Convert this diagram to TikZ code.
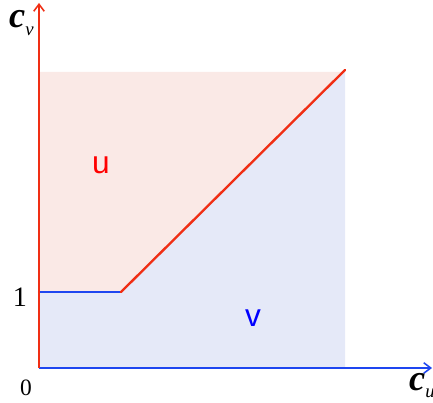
\documentclass[tikz,border=0pt]{standalone}
\usepackage{fontspec}
\setmainfont{Liberation Serif}
\setsansfont{Liberation Sans}
\usetikzlibrary{positioning,arrows.meta}
\definecolor{achsrot}{RGB}{240,46,20}
\definecolor{achsblau}{RGB}{30,70,240}
\definecolor{flaecherot}{RGB}{250,233,230}
\definecolor{flaecheblau}{RGB}{229,233,248}

\begin{document}
\begin{tikzpicture}[x=0.03cm,y=-0.03cm]
\useasboundingbox (0,0) rectangle (433,402);
% 1. Nur die Koordinaten definieren
\coordinate (n0) at (39,368);
\coordinate (n1) at (39,292);
\coordinate (n2) at (121,292);
\coordinate (n3) at (345,70);
\coordinate (n4) at (345,72);
\coordinate (n5) at (39,72);
\coordinate (n6) at (345,368);
\coordinate (ny) at (39,3);
\coordinate (nx) at (432,368);

% 2. Stile definieren
\tikzset{
  axis line/.style={
    line width=1.9pt,
    -{Straight Barb[length=6pt,width=9pt,line width=1.3pt]}
  },
  bound line/.style={
    line width=2pt,
    line cap=round
  },
  big label/.style={
    font=\fontsize{24}{24}\selectfont,
    inner sep=0pt,
    anchor=base
  },
  region label/.style={
    font=\sffamily\fontsize{27}{27}\selectfont,
    inner sep=0pt,
    anchor=base
  },
  axis name/.style={
    anchor=base west,
    inner sep=0pt,
    font=\fontsize{31}{31}\selectfont\bfseries\itshape
  }
}

% 3. Flaechen fuellen
\fill [flaecherot] (n1) -- (n5) -- (n4) -- (n3) -- (n2) -- cycle;
\fill [flaecheblau] (n0) -- (n1) -- (n2) -- (n3) -- (n6) -- cycle;

% 4. Linien zeichnen
\draw [bound line, achsblau] (n1) -- (n2);
\draw [bound line, achsrot] (n2) -- (n3);
\draw [axis line, achsblau] (n0) -- (nx);
\draw [axis line, achsrot] (n0) -- (ny);

% 5. Beschriftungen
\node [axis name] (cv) at (9,28)
  {c\raisebox{-6pt}{\fontsize{16}{16}\selectfont\mdseries v}};
\node [axis name] (cu) at (409,390)
  {c\raisebox{-6pt}{\fontsize{16}{16}\selectfont\mdseries u}};
\node [big label] (eins) at (20,306) {1};
\node [big label, font=\fontsize{20}{20}\selectfont] (null) at (26,395) {0};
\node [region label, text=red] (u) at (101,174) {u};
\node [region label, text=blue] (v) at (253,326) {v};

\end{tikzpicture}
\end{document}
